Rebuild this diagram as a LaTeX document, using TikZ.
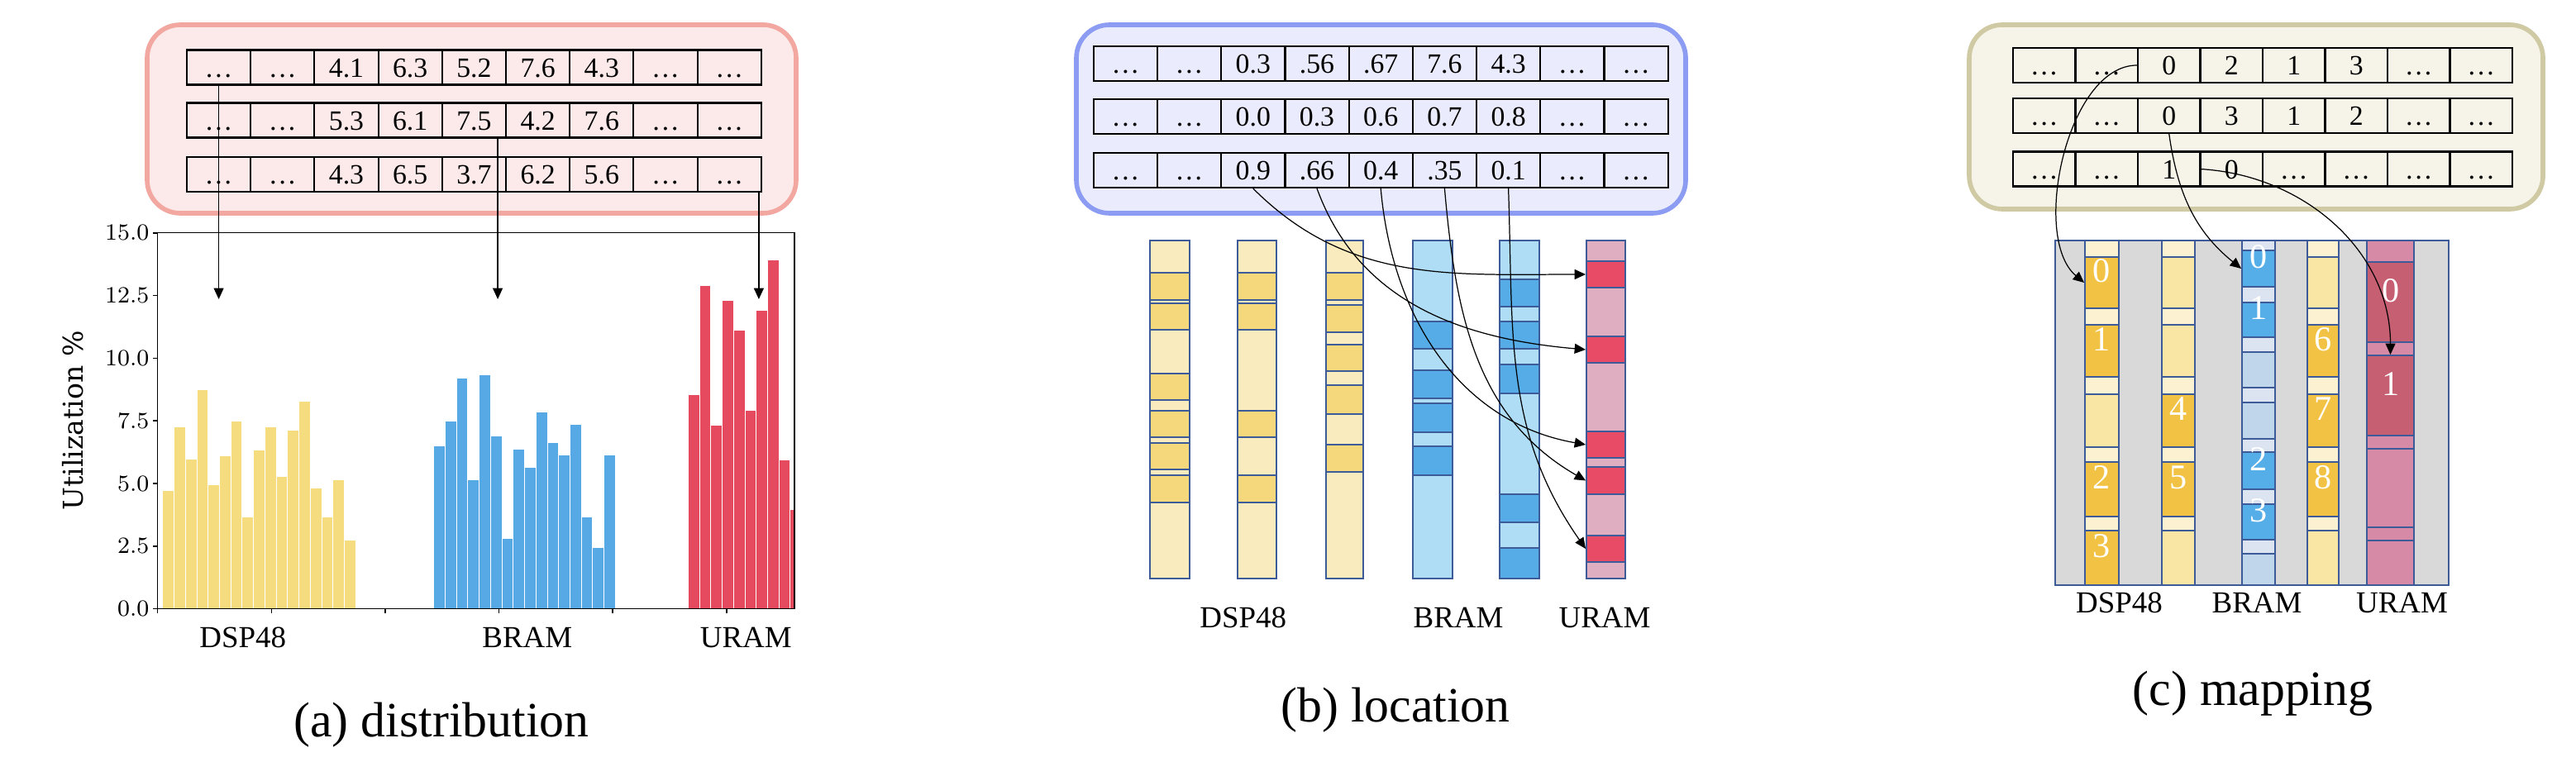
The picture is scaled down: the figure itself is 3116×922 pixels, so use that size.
\documentclass[tikz,border=0pt]{standalone}
\usepackage{fontspec}
\setmainfont{Liberation Serif}
\newfontfamily\plotfont{DejaVu Serif}
\usepackage{tikz}
\usetikzlibrary{calc,positioning,arrows.meta,fit}

\definecolor{distline}{HTML}{F2A7A0}
\definecolor{distfill}{HTML}{FCE9E9}
\definecolor{locline}{HTML}{8C9CF2}
\definecolor{locfill}{HTML}{EAEBFC}
\definecolor{mapline}{HTML}{CFCAA3}
\definecolor{mapfill}{HTML}{F6F4E8}
\definecolor{dspbar}{HTML}{F5DC7E}
\definecolor{brambar}{HTML}{56A9E4}
\definecolor{urambar}{HTML}{E64A5F}
\definecolor{segline}{HTML}{3D5A99}
\definecolor{dsplight}{HTML}{F9EBBE}
\definecolor{dspdark}{HTML}{F5D77C}
\definecolor{bramlight}{HTML}{AEDDF5}
\definecolor{bramdark}{HTML}{56ACE6}
\definecolor{uramlight}{HTML}{DFAFC1}
\definecolor{uramdark}{HTML}{E84B66}
\definecolor{mpale}{HTML}{FCF1D0}
\definecolor{mmid}{HTML}{F9E5A4}
\definecolor{mdark}{HTML}{F2C244}
\definecolor{bpale}{HTML}{DDE4F1}
\definecolor{bmid}{HTML}{C0D6EB}
\definecolor{bdark}{HTML}{56AEE8}
\definecolor{upink}{HTML}{D78AA6}
\definecolor{udark}{HTML}{C55F71}
\definecolor{gridgray}{HTML}{D9D9D9}

\newcommand{\cellfont}{\fontsize{9.6}{10}\selectfont}
\newcommand{\tickfont}{\plotfont\fontsize{8.4}{9}\selectfont}
\newcommand{\ylabfont}{\plotfont\fontsize{9.4}{10}\selectfont}
\newcommand{\labfont}{\fontsize{10.5}{12}\selectfont}
\newcommand{\capfont}{\fontsize{17}{20}\selectfont}
\newcommand{\numfont}{\fontsize{12}{14}\selectfont}

\begin{document}
\begin{tikzpicture}[x=0.01cm,y=-0.01cm,>={Triangle[width=3.4pt,length=3.8pt]},
  tcell/.style={draw,line width=0.6pt,minimum width=0.772cm,minimum height=0.42cm,inner sep=0pt,
    text height=6.6pt,text depth=0pt,font=\cellfont},
  panelbox/.style={line width=1.6pt,rounded corners=0.4cm},
  arr/.style={->,line width=0.35pt},
  colseg/.style={draw=segline,line width=0.55pt},
  blk/.style={inner sep=0pt,text=white,font=\numfont},
  histbar/.style={draw=white,line width=0.2pt},
  axlab/.style={font=\labfont,anchor=base,inner sep=0pt},
  capt/.style={font=\capfont,anchor=base,inner sep=0pt}]
\useasboundingbox (0,0) rectangle (3116,922);

% (a) distribution
\draw[panelbox,draw=distline,fill=distfill] (178,30) rectangle (963,258);
\foreach \v [count=\j] in {\dots,\dots,4.1,6.3,5.2,7.6,4.3,\dots,\dots}
  \node[tcell] (d1-\j) at ({226+77.2*(\j-0.5)},81.5) {\v};
\foreach \v [count=\j] in {\dots,\dots,5.3,6.1,7.5,4.2,7.6,\dots,\dots}
  \node[tcell] (d2-\j) at ({226+77.2*(\j-0.5)},145.5) {\v};
\foreach \v [count=\j] in {\dots,\dots,4.3,6.5,3.7,6.2,5.6,\dots,\dots}
  \node[tcell] (d3-\j) at ({226+77.2*(\j-0.5)},211) {\v};

\begin{scope}
\clip (190.7,281.7) rectangle (961,736.7);
\foreach \h [count=\i] in {4.73,7.25,5.99,8.76,4.95,6.1,7.5,3.68,6.34,7.25,5.3,7.14,8.3,4.84,3.68,5.16,2.75}
  \filldraw[histbar,fill=dspbar] ({196.7+13.73*(\i-1)},736.7) rectangle ++(13.73,{-30.33*\h});
\foreach \h [count=\i] in {6.52,7.5,9.21,5.16,9.35,6.89,2.82,6.38,5.66,7.87,6.64,6.13,7.37,3.67,2.44,6.13}
  \filldraw[histbar,fill=brambar] ({524.6+13.73*(\i-1)},736.7) rectangle ++(13.73,{-30.33*\h});
\foreach \h [count=\i] in {8.54,12.91,7.33,12.3,11.12,7.93,11.92,13.93,5.95,3.96}
  \filldraw[histbar,fill=urambar] ({832.2+13.73*(\i-1)},736.7) rectangle ++(13.73,{-30.33*\h});
\end{scope}
\draw[line width=0.45pt] (190.7,281.7) rectangle (961,736.7);
\foreach \t [count=\k] in {0,2.5,...,15}{
  \draw[line width=0.45pt] (185,{736.7-30.33*\t}) -- (190.7,{736.7-30.33*\t});
  \node[font=\tickfont,anchor=east,inner sep=0pt] (ytick\k) at (181,{736.7-30.33*\t})
    {\pgfmathprintnumber[fixed,fixed zerofill,precision=1]{\t}};
}
\foreach \k in {0,...,5}
  \draw[line width=0.45pt] ({190.7+137.6*\k},736.7) -- ++(0,5.5);
\node[rotate=90,font=\ylabfont] (ylab) at (88,509) {Utilization \%};
\node[axlab] (dspa) at (293.7,783.3) {DSP48};
\node[axlab] (brama) at (637.8,783.3) {BRAM};
\node[axlab] (urama) at (902.3,783.3) {URAM};

\coordinate (tipa) at (0,362);
\coordinate (srca2) at ([xshift=-0.11cm]d2-5.south east);
\coordinate (srca3) at ([xshift=-0.04cm]d3-9.south east);
\draw[arr] (d1-1.south) -- (d1-1.south |- tipa);
\draw[arr] (srca2) -- (srca2 |- tipa);
\draw[arr] (srca3) -- (srca3 |- tipa);
\node[capt] (capa) at (534,891.7) {(a) distribution};

% (b) location
\draw[panelbox,draw=locline,fill=locfill] (1302,30) rectangle (2039,258);
\foreach \v [count=\j] in {\dots,\dots,0.3,.56,.67,7.6,4.3,\dots,\dots}
  \node[tcell] (l1-\j) at ({1322.8+77.2*(\j-0.5)},77) {\v};
\foreach \v [count=\j] in {\dots,\dots,0.0,0.3,0.6,0.7,0.8,\dots,\dots}
  \node[tcell] (l2-\j) at ({1322.8+77.2*(\j-0.5)},141) {\v};
\foreach \v [count=\j] in {\dots,\dots,0.9,.66,0.4,.35,0.1,\dots,\dots}
  \node[tcell] (l3-\j) at ({1322.8+77.2*(\j-0.5)},206) {\v};

\foreach \xa/\xb in {1391/1439,1497/1544,1604/1649}
  \draw[colseg,fill=dsplight] (\xa,291) rectangle (\xb,700);
\foreach \ya/\yb in {330/363,367/399,452/484,497/529,536/568,575/608}
  \draw[colseg,fill=dspdark] (1391,\ya) rectangle (1439,\yb);
\foreach \ya/\yb in {330/363,367/399,497/529,575/608}
  \draw[colseg,fill=dspdark] (1497,\ya) rectangle (1544,\yb);
\foreach \ya/\yb in {330/363,369/402,417/449,466/501,538/571}
  \draw[colseg,fill=dspdark] (1604,\ya) rectangle (1649,\yb);
\foreach \xa/\xb in {1709/1757,1814/1862}
  \draw[colseg,fill=bramlight] (\xa,291) rectangle (\xb,700);
\foreach \ya/\yb in {389/422,448/482,488/523,540/575}
  \draw[colseg,fill=bramdark] (1709,\ya) rectangle (1757,\yb);
\foreach \ya/\yb in {338/371,389/422,441/476,598/632,663/700}
  \draw[colseg,fill=bramdark] (1814,\ya) rectangle (1862,\yb);
\draw[colseg,fill=uramlight] (1919,291) rectangle (1966,700);
\foreach \ya/\yb [count=\k] in {316/348,407/439,522/554,565/598,648/680}
  \node[colseg,fill=uramdark,inner sep=0pt,fit={(1919,\ya)(1966,\yb)}] (ub\k) {};

\draw[arr] (l3-3.south) to[out=-45,in=180] (ub1.west);
\draw[arr] (l3-4.south) to[out=-70,in=175] (ub2.west);
\draw[arr] (l3-5.south) to[out=-85,in=170] (ub3.west);
\draw[arr] (l3-6.south) to[out=-85,in=150] (ub4.west);
\draw[arr] (l3-7.south) to[out=-88,in=125] (ub5.west);

\node[axlab] (dspb) at (1503.7,759.5) {DSP48};
\node[axlab] (bramb) at (1764,759.5) {BRAM};
\node[axlab] (uramb) at (1941,759.5) {URAM};
\node[capt] (capb) at (1688,873.3) {(b) location};

% (c) mapping
\draw[panelbox,draw=mapline,fill=mapfill] (2382,30) rectangle (3076,253);
\foreach \v [count=\j] in {\dots,\dots,0,2,1,3,\dots,\dots}
  \node[tcell,minimum width=0.755cm] (m1-\j) at ({2435+75.5*(\j-0.5)},79) {\v};
\foreach \v [count=\j] in {\dots,\dots,0,3,1,2,\dots,\dots}
  \node[tcell,minimum width=0.755cm] (m2-\j) at ({2435+75.5*(\j-0.5)},140) {\v};
\foreach \v [count=\j] in {\dots,\dots,1,0,\dots,\dots,\dots,\dots}
  \node[tcell,minimum width=0.755cm] (m3-\j) at ({2435+75.5*(\j-0.5)},204.5) {\v};

\draw[colseg,fill=gridgray] (2486,291) rectangle (2962,708);
\foreach \xa/\xb in {2522/2563,2615/2655,2791/2829}
  \draw[colseg,fill=mpale] (\xa,291) rectangle (\xb,708);
\foreach \xa/\xb/\ya/\yb in {2522/2563/477/541,2615/2655/311/373,2615/2655/393/456,
    2615/2655/642/708,2791/2829/311/373,2791/2829/642/708}
  \draw[colseg,fill=mmid] (\xa,\ya) rectangle (\xb,\yb);
\foreach \xa/\xb/\ya/\yb/\n in {2522/2563/311/373/0,2522/2563/393/456/1,2522/2563/559/625/2,
    2522/2563/642/708/3,2615/2655/477/541/4,2615/2655/559/625/5,2791/2829/393/456/6,
    2791/2829/477/541/7,2791/2829/559/625/8}
  \node[colseg,blk,fill=mdark,fit={(\xa,\ya)(\xb,\yb)}] (md\n) {\n};
\draw[colseg,fill=bpale] (2712,291) rectangle (2752,708);
\foreach \ya/\yb in {426/469,487/531,670/708}
  \draw[colseg,fill=bmid] (2712,\ya) rectangle (2752,\yb);
\foreach \ya/\yb/\n in {303/347/0,366/408/1,547/592/2,610/653/3}
  \node[colseg,blk,fill=bdark,fit={(2712,\ya)(2752,\yb)}] (mb\n) {\n};
\draw[colseg,fill=upink] (2863,291) rectangle (2920,708);
\foreach \ya/\yb in {543/638,654/708}
  \draw[colseg,fill=upink] (2863,\ya) rectangle (2920,\yb);
\foreach \ya/\yb/\n in {317/414/0,430/527/1}
  \node[colseg,blk,fill=udark,fit={(2863,\ya)(2920,\yb)}] (mu\n) {\n};

\draw[arr] (m1-3.west) to[out=180,in=140,looseness=0.8] (md0.west);
\draw[arr] (m2-3.south) to[out=-82,in=141] (mb0.west);
\draw[arr] (m3-4.west) to[out=-3,in=90] (mu1.north);

\node[axlab] (dspc) at (2563.5,741) {DSP48};
\node[axlab] (bramc) at (2730,741) {BRAM};
\node[axlab] (uramc) at (2905.5,741) {URAM};
\node[capt] (capc) at (2725,853.3) {(c) mapping};
\end{tikzpicture}
\end{document}
